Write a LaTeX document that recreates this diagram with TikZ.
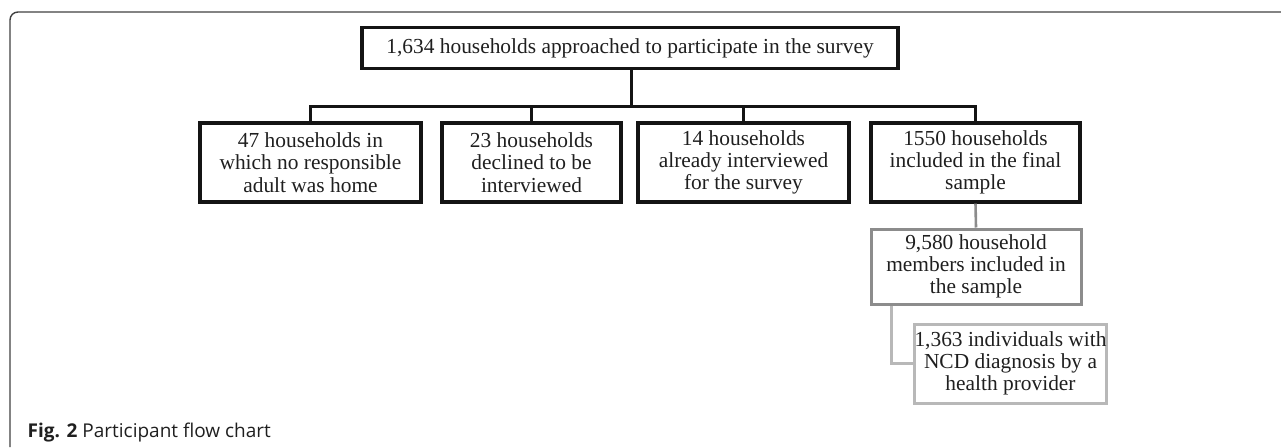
\documentclass[tikz,border=0pt]{standalone}
\usepackage{fontspec}
\setmainfont{Liberation Serif}
\newfontfamily\capfont{Open Sans}
\begin{document}
\begin{tikzpicture}[x=1pt,y=-1pt,
  blk/.style={draw=black!92, line width=3.2pt, align=center, inner sep=0pt,
    font=\fontsize{21.4}{22.2}\selectfont, text=black!88},
  gbox/.style={blk, draw=black!45, line width=3pt},
  lbox/.style={blk, draw=black!28, line width=3pt},
  conn/.style={draw=black!92, line width=3pt},
  gconn/.style={draw=black!45, line width=2.6pt},
  lconn/.style={draw=black!28, line width=3pt, line join=miter},
  frame/.style={draw=black!75, line width=1.4pt}]
\useasboundingbox (0,0) rectangle (1281,447);
\draw[frame] (10,447) -- (10,20) arc[start angle=180, end angle=270, radius=8] -- (1281,12);

\node[blk, minimum width=536pt, minimum height=41pt] (top) at (630,48)
  {1,634 households approached to participate in the survey};
\node[blk, minimum width=221pt, minimum height=79pt] (b1) at (310.5,162.5)
  {47 households in\\which no responsible\\adult was home};
\node[blk, minimum width=179pt, minimum height=79pt] (b2) at (531.5,162.5)
  {23 households\\declined to be\\interviewed};
\node[blk, minimum width=211pt, minimum height=79pt] (b3) at (743.5,162.5)
  {14 households\\already interviewed\\for the survey};
\node[blk, minimum width=209pt, minimum height=79pt] (b4) at (975.5,162.5)
  {1550 households\\included in the final\\sample};
\node[gbox, minimum width=210pt, minimum height=75pt] (b5) at (976,266.5)
  {9,580 household\\members included in\\the sample};
\node[lbox, minimum width=185pt, minimum height=79pt] (b6) at (1010.5,363.5)
  {1,363 individuals with\\NCD diagnosis by a\\health provider};

\coordinate (bus) at (631,106);
\draw[conn] (top.south -| bus) -- (bus);
\draw[conn] ([xshift=-1.5pt]b1.north |- bus) -- ([xshift=1.5pt]b4.north |- bus);
\draw[conn] (b1.north |- bus) -- (b1.north);
\draw[conn] (b2.north |- bus) -- (b2.north);
\draw[conn] (b3.north |- bus) -- (b3.north);
\draw[conn] (b4.north |- bus) -- (b4.north);
\draw[gconn] (b4.south) -- (b5.north);
\coordinate (c5) at ([xshift=22pt]b5.south west);
\draw[lconn] (c5) |- (b6.west);

\node[anchor=base west, inner sep=0pt, text=black!88,
  font=\capfont\fontsize{19}{21}\selectfont] (cap) at (27.5,437)
  {\textbf{Fig. 2} Participant flow chart};
\end{tikzpicture}
\end{document}
